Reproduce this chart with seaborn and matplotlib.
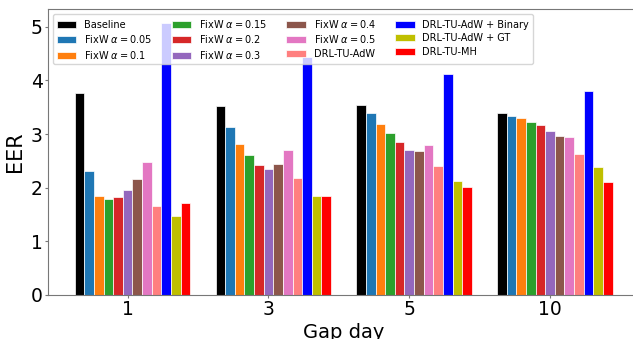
import numpy as np
import pandas as pd
import matplotlib
matplotlib.use("Agg")
import matplotlib.pyplot as plt
import seaborn as sns

days = ["1", "3", "5", "10"]
methods = ["Baseline", r"FixW $\alpha=0.05$", r"FixW $\alpha=0.1$", r"FixW $\alpha=0.15$",
           r"FixW $\alpha=0.2$", r"FixW $\alpha=0.3$", r"FixW $\alpha=0.4$", r"FixW $\alpha=0.5$",
           "DRL-TU-AdW", "DRL-TU-AdW + Binary", "DRL-TU-AdW + GT", "DRL-TU-MH"]
colors = ["black", "#1f77b4", "#ff7f0e", "#2ca02c", "#d62728", "#9467bd", "#8c564b",
          "#e377c2", "#ff7f7f", "#0000ff", "#bfbf00", "#ff0000"]

baseline = [3.77, 3.52, 3.55, 3.40]
fixw_005 = [2.31, 3.14, 3.40, 3.33]
fixw_01 = [1.85, 2.82, 3.19, 3.29]
fixw_015 = [1.79, 2.60, 3.01, 3.22]
fixw_02 = [1.82, 2.43, 2.85, 3.16]
fixw_03 = [1.95, 2.35, 2.71, 3.06]
fixw_04 = [2.17, 2.45, 2.69, 2.96]
fixw_05 = [2.47, 2.70, 2.80, 2.95]
drl_adw = [1.66, 2.18, 2.40, 2.62]
drl_binary = [5.07, 4.44, 4.11, 3.80]
drl_gt = [1.47, 1.84, 2.13, 2.38]
drl_mh = [1.72, 1.84, 2.01, 2.11]

series = [baseline, fixw_005, fixw_01, fixw_015, fixw_02, fixw_03, fixw_04, fixw_05,
          drl_adw, drl_binary, drl_gt, drl_mh]

rows = []
for m, vals in zip(methods, series):
    for d, v in zip(days, vals):
        rows.append({"day": d, "method": m, "EER": v})
df = pd.DataFrame(rows)

W, H = 633, 339
fig = plt.figure(figsize=(W / 100, H / 100), dpi=100)
ax = fig.add_axes([48 / W, (H - 295) / H, (W - 48) / W + 0.01, (295 - 9) / H])

group_width = 0.82
sns.barplot(data=df, x="day", y="EER", hue="method", order=days, hue_order=methods,
            palette=dict(zip(methods, colors)), saturation=1, width=group_width,
            errorbar=None, edgecolor="white", linewidth=0.5, ax=ax)

n = len(methods)
bw = group_width / n
ax.set_xticks(np.arange(len(days)) - bw / 2)
ax.set_xticklabels(days)
ax.set_xlim(-0.60, len(days) - 1 + 0.60)
ax.set_ylim(0, 5.33)
ax.set_yticks([0, 1, 2, 3, 4, 5])
ax.tick_params(axis="both", labelsize=13.5, color="#777777", length=2.5, pad=1.2)
ax.set_xlabel("Gap day", fontsize=14, labelpad=3)
ax.set_ylabel("EER", fontsize=15, labelpad=4)
for s in ax.spines.values():
    s.set_color("#777777")
    s.set_linewidth(0.8)

handles, labels = ax.get_legend_handles_labels()
ax.legend(handles, labels, ncol=4, fontsize=7, loc="upper left", labelspacing=0.35)

fig.savefig("out.png", dpi=100)
